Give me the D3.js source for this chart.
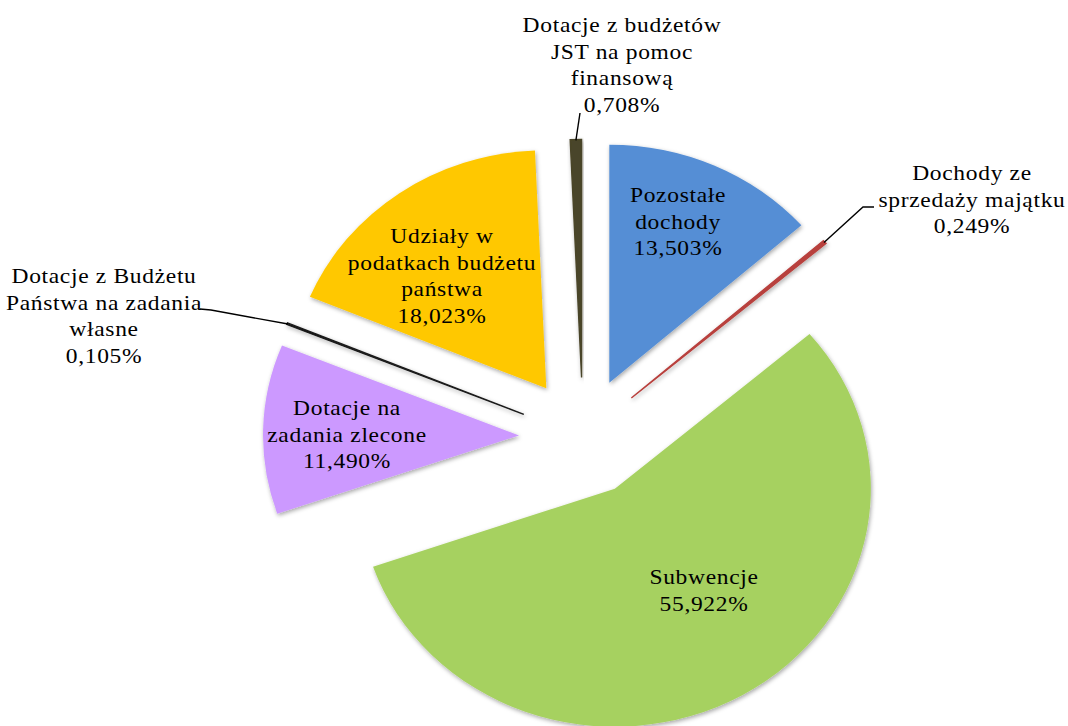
<!DOCTYPE html>
<html>
<head>
<meta charset="utf-8">
<script src="https://cdn.jsdelivr.net/npm/d3@7"></script>
<style>
  body { margin: 0; background: #fff; }
</style>
</head>
<body>
<div id="chart"></div>
<script>
// slices, clockwise from 12 o'clock
const categories = [
  "Pozostałe dochody",
  "Dochody ze sprzedaży majątku",
  "Subwencje",
  "Dotacje na zadania zlecone",
  "Dotacje z Budżetu Państwa na zadania własne",
  "Udziały w podatkach budżetu państwa",
  "Dotacje z budżetów JST na pomoc finansową"
];
const shares = [13.503, 0.249, 55.922, 11.490, 0.105, 18.023, 0.708];
const labelText = [
  ["Pozostałe", "dochody", "13,503%"],
  ["Dochody ze", "sprzedaży majątku", "0,249%"],
  ["Subwencje", "55,922%"],
  ["Dotacje na", "zadania zlecone", "11,490%"],
  ["Dotacje z Budżetu", "Państwa na zadania", "własne", "0,105%"],
  ["Udziały w", "podatkach budżetu", "państwa", "18,023%"],
  ["Dotacje z budżetów", "JST na pomoc", "finansową", "0,708%"]
];
const palette = ["#558ED5", "#B8403D", "#A6D160", "#CC99FF", "#1a1a1a", "#FFC800", "#4A4529"];

const width = 1068, height = 726;
const cx = 583, cy = 437;
const R = 256, ky = 0.93, explode = 64;

// label anchors (first-line baseline) and leader-line elbows
const labelLayout = [
  { x: 678, y: 202 },
  { x: 972, y: 180, leader: [[863, 207], [874, 207]] },
  { x: 704, y: 584 },
  { x: 347, y: 415 },
  { x: 104, y: 283, leader: [[211, 310], [200, 309]] },
  { x: 442, y: 243 },
  { x: 622, y: 32, leader: [[580, 113]] }
];
const lineGap = 26.6;
const serif = "'Liberation Serif', 'Times New Roman', Times, 'DejaVu Serif', serif";

const svg = d3.select("#chart").append("svg")
  .attr("width", width)
  .attr("height", height);

const defs = svg.append("defs");
const shadow = defs.append("filter")
  .attr("id", "shadow")
  .attr("x", "-20%").attr("y", "-20%")
  .attr("width", "140%").attr("height", "140%");
shadow.append("feDropShadow")
  .attr("dx", 1).attr("dy", 2)
  .attr("stdDeviation", 2.2)
  .attr("flood-color", "#000")
  .attr("flood-opacity", 0.35);

const pie = d3.pie().sort(null).value(d => d);
const arcs = pie(shares);
const arc = d3.arc().innerRadius(0).outerRadius(R);

const mid = d => (d.startAngle + d.endAngle) / 2;
const offset = d => [explode * Math.sin(mid(d)), -explode * Math.cos(mid(d)) * ky];

const slices = svg.append("g");
slices.selectAll("path")
  .data(arcs).enter()
  .append("path")
    .attr("transform", d => {
      const [ox, oy] = offset(d);
      return `translate(${cx + ox}, ${cy + oy}) scale(1, ${ky})`;
    })
    .attr("d", arc)
    .attr("fill", (d, i) => palette[i])
    .attr("stroke", (d, i) => shares[i] < 1 ? palette[i] : "none")
    .attr("stroke-width", (d, i) => shares[i] < 1 ? 1.4 : 0)
    .attr("filter", "url(#shadow)");

// leader lines for the thin slices
const outerPoint = d => {
  const [ox, oy] = offset(d);
  const a = mid(d);
  return [cx + ox + (R - 1) * Math.sin(a), cy + oy - (R - 1) * Math.cos(a) * ky];
};

svg.append("g").selectAll("path")
  .data(arcs.filter((d, i) => labelLayout[i].leader)).enter()
  .append("path")
    .attr("fill", "none")
    .attr("stroke", "#000")
    .attr("stroke-width", 1.4)
    .attr("d", d => d3.line()([outerPoint(d), ...labelLayout[d.index].leader]));

const labels = svg.append("g");
labels.selectAll("g")
  .data(arcs).enter()
  .append("g")
    .attr("transform", d => `translate(${labelLayout[d.index].x}, ${labelLayout[d.index].y}) scale(1.12, 1)`)
  .each(function (d) {
    const g = d3.select(this);
    labelText[d.index].forEach((line, j) => {
      g.append("text")
        .attr("x", 0)
        .attr("y", j * lineGap)
        .attr("text-anchor", "middle")
        .attr("font-family", serif)
        .attr("font-size", "21px")
        .attr("letter-spacing", "0.6px")
        .attr("fill", "#000")
        .text(line);
    });
  });
</script>
</body>
</html>
